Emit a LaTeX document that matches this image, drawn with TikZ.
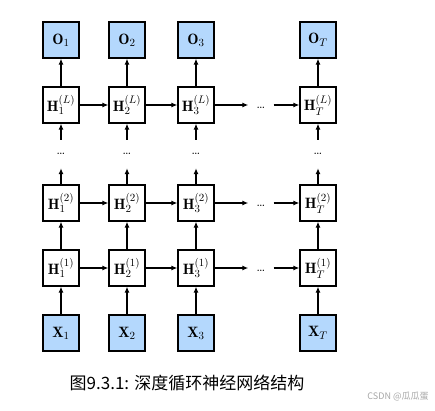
\documentclass[tikz,border=0pt]{standalone}
\usepackage{fontspec}
\newfontfamily\cjk{Noto Sans CJK SC}
\usetikzlibrary{arrows.meta}
\definecolor{blueish}{HTML}{B4D8FD}
\begin{document}
\begin{tikzpicture}[x=1pt,y=-1pt,
  box/.style={draw,line width=1.2pt,minimum size=36pt,inner sep=0pt,font=\fontsize{15}{17}\selectfont},
  io/.style={box,fill=blueish},
  arr/.style={-{Latex[length=6pt,width=5pt]},line width=1.2pt},
  vdots/.style={minimum height=28pt,minimum width=10pt,inner sep=0pt,font=\fontsize{14}{16}\selectfont},
  hdots/.style={minimum width=25pt,minimum height=10pt,inner sep=0pt,font=\fontsize{14}{16}\selectfont}]
\useasboundingbox (0,0) rectangle (435,410);
% columns
\foreach \c/\x/\s in {1/61/1,2/127/2,3/196/3,T/318/T}{
  \node[io]  (O\c)  at (\x,40)  {$\mathbf{O}_{\s}$};
  \node[box] (HL\c) at (\x,105) {$\mathbf{H}_{\s}^{(L)}$};
  \node[vdots] (V\c) at (\x,154) {\ldots};
  \node[box] (Hb\c) at (\x,203) {$\mathbf{H}_{\s}^{(2)}$};
  \node[box] (Ha\c) at (\x,268) {$\mathbf{H}_{\s}^{(1)}$};
  \node[io]  (X\c)  at (\x,333) {$\mathbf{X}_{\s}$};
  \draw[arr] (X\c) -- (Ha\c);
  \draw[arr] (Ha\c) -- (Hb\c);
  \draw[arr] (Hb\c) -- (V\c.south);
  \draw[arr] (V\c.north) -- (HL\c);
  \draw[arr] (HL\c) -- (O\c);
}
% horizontal
\foreach \r/\y in {HL/105,Hb/203,Ha/268}{
  \draw[arr] (\r1) -- (\r2);
  \draw[arr] (\r2) -- (\r3);
  \node[hdots] (D\r) at (261,\y+3) {\ldots};
  \draw[arr] (\r3.east) -- (D\r.west |- \r3.east);
  \draw[arr] (D\r.east |- \r T.west) -- (\r T.west);
}
\node[font=\cjk\fontsize{17}{20}\selectfont] (cap) at (187,383) {图9.3.1: 深度循环神经网络结构};
\node[font=\cjk\fontsize{9}{11}\selectfont,text=black!35] (wm) at (398,397) {CSDN @瓜瓜蛋};
\end{tikzpicture}
\end{document}
